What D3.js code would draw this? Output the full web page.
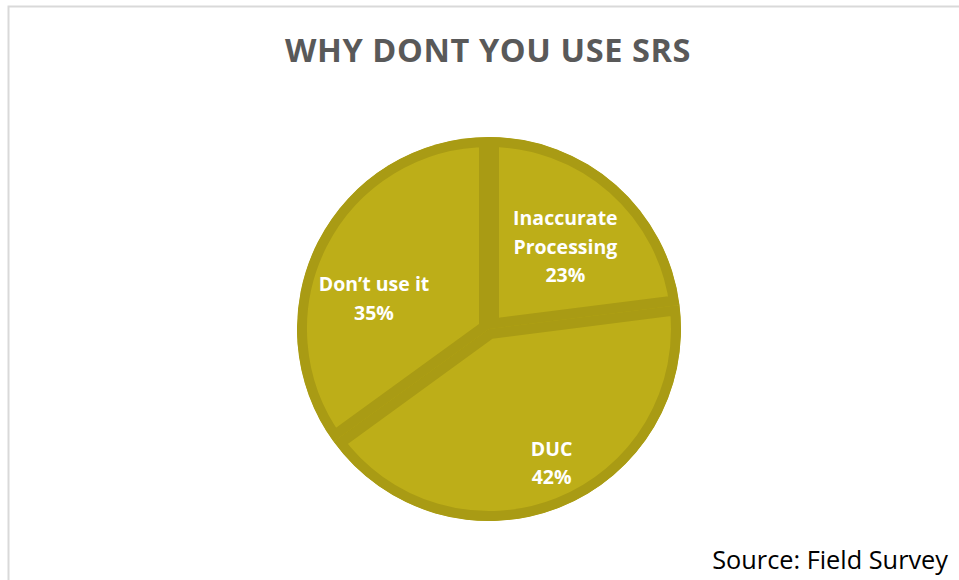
<!DOCTYPE html>
<html>
<head>
<meta charset="utf-8">
<script src="https://cdn.jsdelivr.net/npm/d3@7"></script>
<style>
  html, body { margin: 0; padding: 0; background: #fff; }
  svg { display: block; }
</style>
</head>
<body>
<svg id="chart" width="959" height="580"></svg>
<script>
// Reasons respondents give for not using SRS
const categories = ["Inaccurate Processing", "DUC", "Don\u2019t use it"];
const percentages = [23, 42, 35];
const labelLines = [["Inaccurate", "Processing"], ["DUC"], ["Don\u2019t use it"]];
const titleText = "WHY DONT YOU USE SRS";
const sourceText = "Source: Field Survey";

const width = 959, height = 580;
const cx = 489, cy = 329, radius = 192;
const fillColor = "#BDAE18";
const edgeColor = "#A99B14";
const edgeWidth = 10;

// Per-slice label placement: fraction of radius and angular nudge (radians)
const labelPlacement = [
  { r: 0.585, da: 0.025 },
  { r: 0.77, da: -0.06 },
  { r: 0.62, da: -0.21 }
];

const svg = d3.select("#chart");

// Chart area frame
svg.append("rect")
  .attr("x", 8.5).attr("y", 6.5)
  .attr("width", width + 10).attr("height", height + 10)
  .attr("fill", "none")
  .attr("stroke", "#d9d9d9")
  .attr("stroke-width", 2);

// Title
svg.append("text")
  .attr("x", cx - 1).attr("y", 62)
  .attr("text-anchor", "middle")
  .attr("font-family", "'Open Sans', sans-serif")
  .attr("font-weight", 700)
  .attr("font-size", 32.5)
  .attr("fill", "#595959")
  .attr("letter-spacing", 0.6)
  .text(titleText);

const data = categories.map((c, i) => ({ category: c, value: percentages[i], lines: labelLines[i], idx: i }));

const pie = d3.pie().sort(null).value(d => d.value);
const arc = d3.arc().innerRadius(0).outerRadius(radius);
const arcs = pie(data);

const g = svg.append("g").attr("transform", `translate(${cx},${cy})`);
const defs = svg.append("defs");

arcs.forEach((a, i) => {
  defs.append("clipPath").attr("id", "slice-clip-" + i)
    .append("path").attr("d", arc(a));
});

// Backing disc so slice seams stay solid
g.append("circle").attr("r", radius - 2).attr("fill", edgeColor);

// Slices with an inside edge band
g.selectAll("path.slice")
  .data(arcs)
  .join("path")
  .attr("class", "slice")
  .attr("d", arc)
  .attr("fill", fillColor)
  .attr("stroke", edgeColor)
  .attr("stroke-width", edgeWidth * 2)
  .attr("stroke-linejoin", "miter")
  .attr("clip-path", (d, i) => `url(#slice-clip-${i})`);

// Slice labels
const lineHeight = 28.5;
arcs.forEach((a, i) => {
  const p = labelPlacement[i];
  const mid = (a.startAngle + a.endAngle) / 2 + p.da;
  const rr = radius * p.r;
  const x = rr * Math.sin(mid);
  const y = -rr * Math.cos(mid);
  const lines = a.data.lines.concat([a.data.value + "%"]);
  const t = g.append("text")
    .attr("text-anchor", "middle")
    .attr("font-family", "'Open Sans', sans-serif")
    .attr("font-weight", 700)
    .attr("font-size", 19.5)
    .attr("fill", "#ffffff");
  const y0 = y - (lines.length - 1) * lineHeight / 2 + 7;
  lines.forEach((ln, k) => {
    t.append("tspan").attr("x", x).attr("y", y0 + k * lineHeight).text(ln);
  });
});

// Source note
svg.append("text")
  .attr("x", 948).attr("y", 569)
  .attr("text-anchor", "end")
  .attr("font-family", "'Open Sans', sans-serif")
  .attr("font-size", 25.3)
  .attr("fill", "#000")
  .text(sourceText);
</script>
</body>
</html>
